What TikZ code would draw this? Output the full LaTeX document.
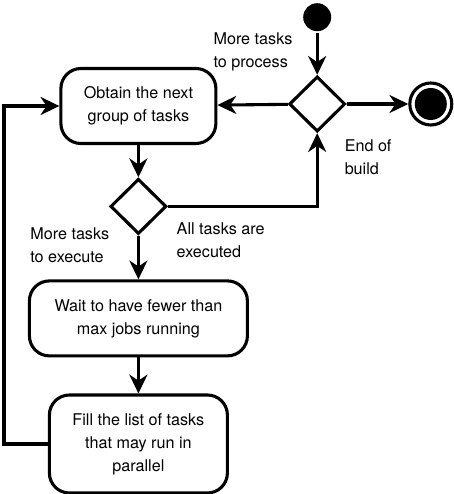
\documentclass[tikz,border=0pt]{standalone}
\usepackage{fontspec}
\setmainfont{TeX Gyre Heros}
\usetikzlibrary{arrows.meta,shapes.geometric}

\begin{document}
\begin{tikzpicture}[->,>={Stealth[length=0.47cm,width=0.45cm,inset=0.15cm]},line width=2.2pt,
  font=\fontsize{11.5}{16.3}\selectfont,
  action node/.style={draw,rounded corners=0.5cm,align=center,inner sep=0pt},
  decision node/.style={diamond,draw,inner sep=0pt,minimum width=1.4cm,minimum height=1.38cm},
  label node/.style={anchor=west,align=left,inner sep=0pt}]

  \useasboundingbox (0,0) rectangle (11.35,12.35);

  \node[circle,fill=black,minimum size=0.7cm,inner sep=0pt] (start) at (7.93,11.92) {};
  \node[decision node] (more) at (7.93,9.75) {};
  \node[circle,draw,minimum size=1.05cm,inner sep=0pt,
    path picture={\fill (path picture bounding box.center) circle (0.4cm);}] (stop) at (10.77,9.75) {};
  \node[action node,minimum width=3.875cm,minimum height=1.875cm] (obtain) at (3.46,9.7) {Obtain the next\\group of tasks};
  \node[decision node] (done) at (3.46,7.19) {};
  \node[action node,minimum width=5.45cm,minimum height=1.875cm] (wait) at (3.46,4.39) {Wait to have fewer than\\max jobs running};
  \node[action node,minimum width=4.45cm,minimum height=2.45cm] (fill) at (3.46,1.25) {Fill the list of tasks\\that may run in\\parallel};
  \coordinate (loop) at (0.1,0);

  \node[label node] at (5.3,11.05) {More tasks\\to process};
  \node[label node] at (8.58,8.43) {End of\\build};
  \node[label node] at (4.38,6.35) {All tasks are\\executed};
  \node[label node] at (0.72,6.22) {More tasks\\to execute};

  \path
    (start) edge (more)
    (more) edge (obtain)
    (more) edge (stop)
    (obtain) edge (done)
    (done) edge (wait)
    (wait) edge (fill);
  \draw (done.east) -| (more.south);
  \draw (fill.west) -- (fill.west -| loop) |- (obtain.west);

\end{tikzpicture}
\end{document}
